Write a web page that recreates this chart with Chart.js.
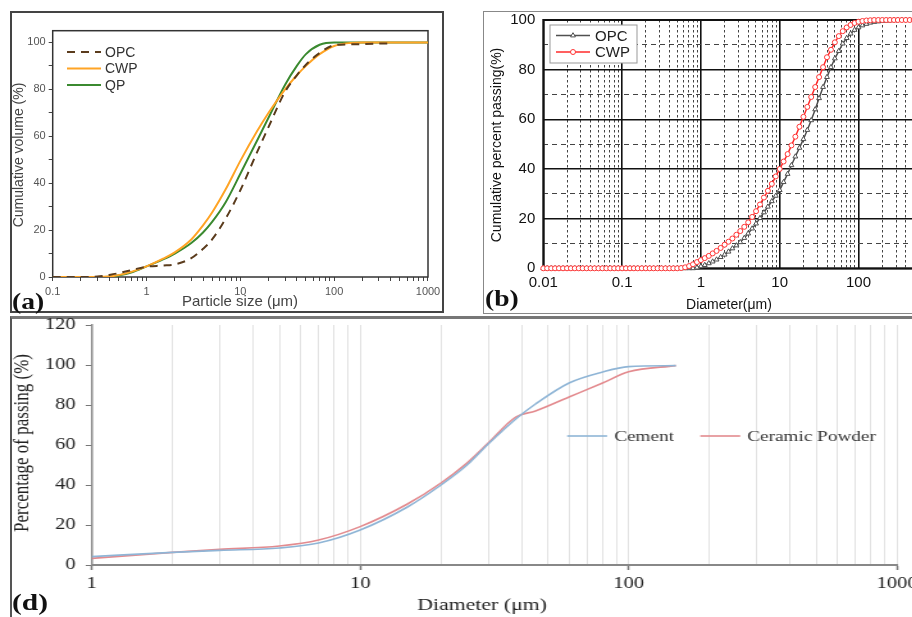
<!DOCTYPE html>
<html>
<head>
<meta charset="utf-8">
<script src="https://cdn.jsdelivr.net/npm/chart.js@4.4.1/dist/chart.umd.min.js"></script>
<style>
  html, body { margin: 0; padding: 0; background: #fff; }
  body { width: 912px; height: 617px; overflow: hidden; position: relative; }
  canvas { position: absolute; left: 0; top: 0; }
  .frame { position: absolute; box-sizing: border-box; }
  .tag { position: absolute; font: bold 23px "Liberation Serif", "Times New Roman", serif; color: #111; line-height: 24px; transform-origin: left center; }
</style>
</head>
<body>
<div class="frame" style="left:10px;top:11px;width:434px;height:302px;border:2px solid #444;"></div>
<div class="frame" style="left:483px;top:11px;width:460px;height:303px;border:1.5px solid #888;"></div>
<div class="frame" style="left:10px;top:316px;width:930px;height:320px;border-left:2px solid #555;border-top:3px solid #777;"></div>
<canvas id="chartA" width="912" height="617"></canvas>
<canvas id="chartB" width="960" height="617"></canvas>
<canvas id="chartD" width="740" height="617" style="width:947.7px;height:617px;"></canvas>
<div class="tag" style="left:12px;top:290px;transform:scaleX(1.2);">(a)</div>
<div class="tag" style="left:485px;top:287px;transform:scaleX(1.2);">(b)</div>
<div class="tag" style="left:12px;top:591px;transform:scaleX(1.28);">(d)</div>
<script>
  // (a) cumulative volume vs particle size
  const aSizes = [0.1, 0.2, 0.3, 0.4, 0.5, 0.7, 1, 1.5, 2, 3, 4, 5, 7, 10, 15, 20, 30, 40, 50, 70, 100, 150, 200, 380, 1000];
  const aOPC = [0, 0, 0.2, 0.9, 1.6, 3, 4.4, 4.9, 5.4, 8, 12, 16, 25, 37, 53, 64, 79, 86, 90.5, 95.5, 98.8, 99.2, 99.3, 99.6, null];
  const aCWP = [0, 0, 0, 0.2, 0.8, 2.3, 4.5, 7.8, 10.5, 16, 22, 27.5, 37.5, 49.5, 62, 70, 80, 86, 90, 95, 98.5, 99.8, 100, 100, 100];
  const aQP = [0, 0, 0, 0.1, 0.6, 2, 4.5, 7.5, 10, 14.5, 19, 23.5, 32, 44, 58, 68, 82, 90, 95, 99, 100, 100, 100, 100, 100];
  const aYTicks = [0, 10, 20, 30, 40, 50, 60, 70, 80, 90, 100];

  // (b) cumulative percent passing vs diameter
  const bSizes = [
    0.01, 0.0112, 0.0126, 0.0141, 0.0158, 0.0178, 0.02, 0.0224, 0.0251, 0.0282, 0.0316, 0.0355, 0.0398, 0.0447, 0.0501, 0.0562, 0.0631, 0.0708, 0.0794, 0.0891,
    0.1, 0.112, 0.126, 0.141, 0.158, 0.178, 0.2, 0.224, 0.251, 0.282, 0.316, 0.355, 0.398, 0.447, 0.501, 0.562, 0.631, 0.708, 0.794, 0.891,
    1, 1.12, 1.26, 1.41, 1.58, 1.78, 2, 2.24, 2.51, 2.82, 3.16, 3.55, 3.98, 4.47, 5.01, 5.62, 6.31, 7.08, 7.94, 8.91,
    10, 11.2, 12.6, 14.1, 15.8, 17.8, 20, 22.4, 25.1, 28.2, 31.6, 35.5, 39.8, 44.7, 50.1, 56.2, 63.1, 70.8, 79.4, 89.1,
    100, 112, 126, 141, 158, 178, 200, 224, 251, 282, 316, 355, 398, 447, 501, 562, 631, 708, 794, 891, 1000
  ];
  const bOPC = [
    0, 0, 0, 0, 0, 0, 0, 0, 0, 0, 0, 0, 0, 0, 0, 0, 0, 0, 0, 0,
    0, 0, 0, 0, 0, 0, 0, 0, 0, 0, 0, 0, 0, 0, 0, 0, 0, 0, 0, 0.3,
    0.8, 1.3, 2, 2.7, 3.5, 4.5, 5.5, 6.7, 8, 9.2, 10.5, 12.2, 14, 16, 18, 20.2, 22.5, 24.8, 27, 29.2,
    31.5, 34.7, 38, 41.5, 45, 48.5, 52, 55.7, 59.6, 64, 68.5, 73, 77, 81, 84.5, 87.5, 90.5, 92.7, 94.5, 96,
    97, 97.8, 98.4, 98.9, 99.2, 99.4, 99.6, 99.7, 99.8, 99.9, 100, 100, 100, 100, 100, 100, 100, 100, 100, 100, 100
  ];
  const bCWP = [
    0, 0, 0, 0, 0, 0, 0, 0, 0, 0, 0, 0, 0, 0, 0, 0, 0, 0, 0, 0,
    0, 0, 0, 0, 0, 0, 0, 0, 0, 0, 0, 0, 0, 0, 0, 0.1, 0.4, 0.9, 1.6, 2.5,
    3.3, 4.1, 5, 6, 7, 8.2, 9.5, 10.7, 12, 13.5, 15, 16.7, 18.5, 20.7, 23, 25.7, 28.5, 31.2, 34, 37,
    40, 43, 46, 49.5, 53, 57, 61, 65, 69, 73, 77, 81, 85, 88, 91, 93.5, 95.5, 97, 98, 98.8,
    99.3, 99.6, 99.8, 99.9, 100, 100, 100, 100, 100, 100, 100, 100, 100, 100, 100, 100, 100, 100, 100, 100, 100
  ];

  // (d) percentage of passing vs diameter
  const dSizes = [1, 2, 3, 5, 7, 10, 15, 20, 25, 30, 38, 45, 60, 80, 100, 150];
  const dCement = [4.2, 6.3, 7.3, 8.5, 11, 17.5, 29, 40, 50, 60.5, 73, 80.5, 91, 96.5, 99.2, 99.7];
  const dCeramic = [3.3, 6.3, 7.8, 9.5, 12.5, 19.2, 30.5, 41, 51, 61, 74, 77, 84, 91, 96.6, 99.7];

  const SANS = '"Liberation Sans", Arial, sans-serif';
  const SERIF = '"Liberation Serif", "Times New Roman", serif';
  Chart.defaults.font.family = SANS;

  function isDecade(v) {
    const l = Math.log10(v);
    return Math.abs(l - Math.round(l)) < 1e-6;
  }
  // newer log scales add 1.5, 15, 150... ticks; keep only 1..9 per decade
  function dropHalfSteps(scale) {
    scale.ticks = scale.ticks.filter(t => {
      const m = t.value / Math.pow(10, Math.floor(Math.log10(t.value) + 1e-9));
      return Math.abs(m - 1.5) > 1e-6;
    });
  }
  function pts(xs, ys) {
    return xs.map((x, i) => ({ x: x, y: ys[i] }));
  }
  const decadeLabel = v => isDecade(v) ? String(v) : '';

  // box round the plot area
  const plotFrame = {
    id: 'plotFrame',
    beforeDatasetsDraw(chart, args, o) {
      if (!o.color) return;
      const a = chart.chartArea, ctx = chart.ctx;
      ctx.save();
      ctx.strokeStyle = o.color;
      ctx.lineWidth = o.width;
      ctx.strokeRect(a.left, a.top, a.right - a.left, a.bottom - a.top);
      ctx.restore();
    }
  };

  // legend at fixed spots
  const keyBox = {
    id: 'keyBox',
    afterDatasetsDraw(chart, args, o) {
      if (!o.spots) return;
      const ctx = chart.ctx;
      ctx.save();
      if (o.box) {
        ctx.fillStyle = '#fff';
        ctx.fillRect(o.box.x, o.box.y, o.box.w, o.box.h);
        ctx.strokeStyle = o.box.color;
        ctx.lineWidth = 1;
        ctx.strokeRect(o.box.x, o.box.y, o.box.w, o.box.h);
      }
      ctx.font = o.font;
      ctx.textBaseline = 'middle';
      ctx.textAlign = 'left';
      chart.data.datasets.forEach((ds, i) => {
        const x = o.spots[i][0], y = o.spots[i][1];
        ctx.strokeStyle = ds.borderColor;
        ctx.lineWidth = ds.borderWidth;
        ctx.setLineDash(ds.borderDash || []);
        ctx.beginPath();
        ctx.moveTo(x, y);
        ctx.lineTo(x + o.lineLen, y);
        ctx.stroke();
        ctx.setLineDash([]);
        if (ds.pointRadius > 0) {
          ctx.fillStyle = ds.pointBackgroundColor;
          ctx.strokeStyle = ds.pointBorderColor;
          ctx.lineWidth = ds.pointBorderWidth;
          Chart.helpers.drawPoint(ctx, { pointStyle: ds.pointStyle, radius: ds.pointRadius, rotation: 0, borderWidth: ds.pointBorderWidth }, x + o.lineLen / 2, y);
        }
        ctx.fillStyle = o.color;
        ctx.fillText(ds.label, x + o.lineLen + o.gap, y + 1);
      });
      ctx.restore();
    }
  };

  // axis titles placed by hand
  const captions = {
    id: 'captions',
    afterDraw(chart, args, o) {
      const ctx = chart.ctx;
      (o.list || []).forEach(c => {
        ctx.save();
        ctx.translate(c.x, c.y);
        if (c.rotate) ctx.rotate(c.rotate);
        ctx.font = c.font;
        ctx.fillStyle = c.color;
        ctx.textAlign = 'center';
        ctx.textBaseline = 'middle';
        ctx.fillText(c.text, 0, 0);
        ctx.restore();
      });
    }
  };

  // ---- (a)
  new Chart(document.getElementById('chartA'), {
    type: 'line',
    data: {
      datasets: [
        { label: 'OPC', data: pts(aSizes, aOPC), borderColor: '#5b3c1d', borderWidth: 2, borderDash: [8, 6], pointRadius: 0, cubicInterpolationMode: 'monotone' },
        { label: 'CWP', data: pts(aSizes, aCWP), borderColor: '#ffa425', borderWidth: 2, pointRadius: 0, cubicInterpolationMode: 'monotone' },
        { label: 'QP', data: pts(aSizes, aQP), borderColor: '#3b8a30', borderWidth: 2, pointRadius: 0, cubicInterpolationMode: 'monotone' }
      ]
    },
    options: {
      responsive: false, animation: false, events: [],
      layout: { padding: { left: 11, top: 30.7, right: 484, bottom: 306 } },
      scales: {
        x: {
          type: 'logarithmic', min: 0.1, max: 1000,
          afterBuildTicks: dropHalfSteps,
          afterFit: s => { s.height = 34; },
          grid: { drawOnChartArea: false, tickLength: 4, tickColor: '#444' },
          border: { display: false },
          ticks: { autoSkip: false, maxRotation: 0, padding: 4, color: '#555', font: { size: 11 }, callback: decadeLabel }
        },
        y: {
          min: 0, max: 105,
          afterBuildTicks: s => { s.ticks = aYTicks.map(v => ({ value: v })); },
          afterFit: s => { s.width = 41.7; },
          grid: { drawOnChartArea: false, tickLength: 4, tickColor: '#444' },
          border: { display: false },
          ticks: { autoSkip: false, padding: 3, color: '#555', font: { size: 11 }, callback: v => v % 20 === 0 ? v : '' }
        }
      },
      plugins: {
        legend: { display: false }, tooltip: { enabled: false },
        plotFrame: { color: '#333', width: 1.5 },
        keyBox: { spots: [[67, 52], [67, 68.5], [67, 85]], lineLen: 34, gap: 4, font: '14px ' + SANS, color: '#333' },
        captions: { list: [
          { text: 'Particle size (μm)', x: 240, y: 302, font: '15px ' + SANS, color: '#444' },
          { text: 'Cumulative volume (%)', x: 19, y: 155, rotate: -Math.PI / 2, font: '14px ' + SANS, color: '#444' }
        ] }
      }
    },
    plugins: [plotFrame, keyBox, captions]
  });

  // ---- (b)
  new Chart(document.getElementById('chartB'), {
    type: 'line',
    data: {
      datasets: [
        { label: 'OPC', data: pts(bSizes, bOPC), borderColor: '#505050', borderWidth: 1.5, pointStyle: 'triangle', pointRadius: 2.8,
          pointBorderWidth: 1, pointBackgroundColor: '#fff', pointBorderColor: '#505050', order: 1, clip: 5 },
        { label: 'CWP', data: pts(bSizes, bCWP), borderColor: '#ff2b2b', borderWidth: 1.5, pointStyle: 'circle', pointRadius: 2.5,
          pointBorderWidth: 1, pointBackgroundColor: '#fff', pointBorderColor: '#ff3535', order: 0, clip: 5 }
      ]
    },
    options: {
      responsive: false, animation: false, events: [],
      layout: { padding: { left: 484.3, top: 20, right: 22, bottom: 306 } },
      scales: {
        x: {
          type: 'logarithmic', min: 0.01, max: 1000,
          afterBuildTicks: dropHalfSteps,
          afterFit: s => { s.height = 42.7; },
          grid: {
            drawTicks: false,
            color: c => c.tick && !isDecade(c.tick.value) ? '#444' : '#111',
            lineWidth: c => c.tick && !isDecade(c.tick.value) ? 1 : 1.6
          },
          border: { display: false, dash: c => c.tick && !isDecade(c.tick.value) ? [2.5, 2.5] : [] },
          ticks: { autoSkip: false, maxRotation: 0, padding: 6, color: '#111', font: { size: 15 }, callback: decadeLabel }
        },
        y: {
          min: 0, max: 100,
          afterFit: s => { s.width = 59; },
          grid: {
            drawTicks: false,
            color: c => c.tick && c.tick.value % 20 !== 0 ? '#444' : '#111',
            lineWidth: c => c.tick && c.tick.value % 20 !== 0 ? 1 : 1.6
          },
          border: { display: false, dash: c => c.tick && c.tick.value % 20 !== 0 ? [5, 4] : [] },
          ticks: { autoSkip: false, stepSize: 10, padding: 8, color: '#111', font: { size: 15 }, callback: v => v % 20 === 0 ? v : '' }
        }
      },
      plugins: {
        legend: { display: false }, tooltip: { enabled: false },
        plotFrame: { color: '#111', width: 2 },
        keyBox: { spots: [[556, 35.5], [556, 52]], lineLen: 34, gap: 5, font: '15px ' + SANS, color: '#222',
                  box: { x: 550, y: 25, w: 87, h: 38, color: '#999' } },
        captions: { list: [
          { text: 'Diameter(μm)', x: 729, y: 305, font: '14px ' + SANS, color: '#111' },
          { text: 'Cumulative percent passing(%)', x: 497, y: 145, rotate: -Math.PI / 2, font: '14px ' + SANS, color: '#111' }
        ] }
      }
    },
    plugins: [plotFrame, keyBox, captions]
  });

  // ---- (d)  (canvas is stretched x1.2807 wide, like the source panel)
  new Chart(document.getElementById('chartD'), {
    type: 'line',
    data: {
      datasets: [
        { label: 'Cement', data: pts(dSizes, dCement), borderColor: '#8fb5d6', borderWidth: 1.6, pointRadius: 0, cubicInterpolationMode: 'monotone' },
        { label: 'Ceramic Powder', data: pts(dSizes, dCeramic), borderColor: '#e38b8f', borderWidth: 1.6, pointRadius: 0, cubicInterpolationMode: 'monotone' }
      ]
    },
    options: {
      responsive: false, animation: false, events: [],
      layout: { padding: { left: 8.6, top: 325, right: 39.8, bottom: 0 } },
      scales: {
        x: {
          type: 'logarithmic', min: 1, max: 1000,
          afterBuildTicks: dropHalfSteps,
          afterFit: s => { s.height = 52; },
          grid: { color: '#e2e2e2', lineWidth: 1, tickLength: 5, tickWidth: 1.5,
                  tickColor: c => c.tick && isDecade(c.tick.value) ? '#777' : 'rgba(0,0,0,0)' },
          border: { color: '#888', width: 2 },
          ticks: { autoSkip: false, maxRotation: 0, padding: 3.7, color: '#222', font: { family: SERIF, size: 16 }, callback: decadeLabel }
        },
        y: {
          min: 0, max: 120,
          afterFit: s => { s.width = 63; },
          grid: { drawOnChartArea: false, tickLength: 4.7, tickColor: '#777' },
          border: { color: '#888', width: 1.5 },
          ticks: { autoSkip: false, stepSize: 20, padding: 7.8, color: '#222', font: { family: SERIF, size: 16 } }
        }
      },
      plugins: {
        legend: { display: false }, tooltip: { enabled: false },
        keyBox: { spots: [[442.7, 436], [546.6, 436]], lineLen: 31.2, gap: 5.5, font: '15px ' + SERIF, color: '#333' },
        captions: { list: [
          { text: 'Diameter (μm)', x: 376.3, y: 606, font: '17px ' + SERIF, color: '#222' },
          { text: 'Percentage of passing (%)', x: 17.2, y: 443, rotate: -Math.PI / 2, font: '17px ' + SERIF, color: '#222' }
        ] }
      }
    },
    plugins: [keyBox, captions]
  });
</script>
</body>
</html>
